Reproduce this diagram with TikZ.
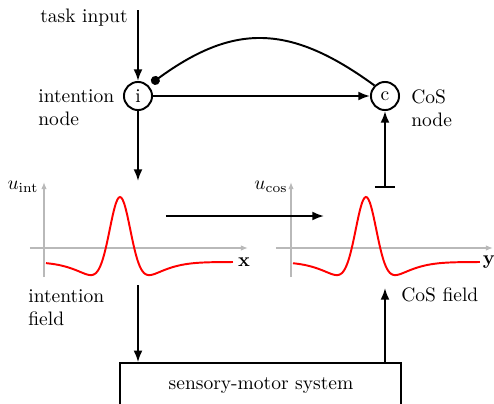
\documentclass[tikz,border=0pt]{standalone}
\usetikzlibrary{arrows.meta,calc}
\definecolor{axisgray}{RGB}{185,185,185}
\begin{document}
\begin{tikzpicture}[x=0.513pt,y=-0.513pt,
  conn/.style={line width=1pt,-{Latex[length=6pt,width=4.6pt]}},
  dotconn/.style={line width=1pt,-{Circle[length=4.6pt]}},
  unit/.style={circle,draw,line width=1pt,minimum size=14.4pt,inner sep=0pt},
  axisline/.style={axisgray,line width=1pt,-{Latex[length=3.6pt,width=2.8pt]}},
  fieldcurve/.style={red,line width=1pt,smooth,samples=140},
  lbl/.style={align=left,anchor=west,inner sep=0pt},
]
\clip (0,0) rectangle (494,404);
% nodes
\node[unit] (i) at (138,96) {i};
\node[unit] (c) at (385,96) {c};
\node[inner sep=0pt] (task) at (84,18) {task input};
\node[lbl] (inode) at (38,108) {intention\\node};
\node[lbl] (cnode) at (411,108) {CoS\\node};
\node[lbl] (ifield) at (28,308) {intention\\field};
\node[lbl] (cfield) at (401,295) {CoS field};
\node[draw,line width=1pt,minimum width=144.2pt,minimum height=28pt,inner sep=0pt] (sms) at (260.5,390.5) {};
\node[inner sep=0pt] (smstext) at (261,386) {sensory-motor system};
% axes labels
\node[inner sep=0pt] (uint) at (23,187) {$u_{\mathrm{int}}$};
\node[inner sep=0pt] (ucos) at (271,187) {$u_{\mathrm{cos}}$};
\node[inner sep=0pt] (xl) at (244,262) {$\mathbf{x}$};
\node[inner sep=0pt] (yl) at (489,262) {$\mathbf{y}$};
% coordinates
\coordinate (tin) at (138,10);
\coordinate (itip) at (138,181);
\coordinate (bar) at (385,187);
\coordinate (barl) at (375,187);
\coordinate (barr) at (395,187);
\coordinate (ms) at (166,216);
\coordinate (me) at (324,216);
\coordinate (fi) at (138,285);
\coordinate (cf) at (385,288);
% axes
\draw[axisline] (44,277) -- (44,182);
\draw[axisline] (30,248) -- (248,248);
\draw[axisline] (291,277) -- (291,182);
\draw[axisline] (276,248) -- (493,248);
% fields
\draw[fieldcurve,domain=46:233] plot (\x,{248-(-14+89*exp(-(\x-120)*(\x-120)/220)-24*exp(-(\x-120)*(\x-120)/1800))});
\draw[fieldcurve,domain=293:480] plot (\x,{248-(-14+89*exp(-(\x-366)*(\x-366)/220)-24*exp(-(\x-366)*(\x-366)/1800))});
% connectors
\draw[conn] (tin) -- (i);
\draw[conn] (i) -- (c);
\draw[conn] (i) -- (itip);
\draw[line width=1pt] (barl) -- (barr);
\draw[conn] (bar) -- (c);
\draw[dotconn,shorten >=2pt] (c.135) .. controls +(-85,-62) and +(85,-62) .. (i.45);
\draw[conn] (ms) -- (me);
\draw[conn] (fi) -- (fi |- sms.north);
\draw[conn] (sms.north -| cf) -- (cf);
\end{tikzpicture}
\end{document}
